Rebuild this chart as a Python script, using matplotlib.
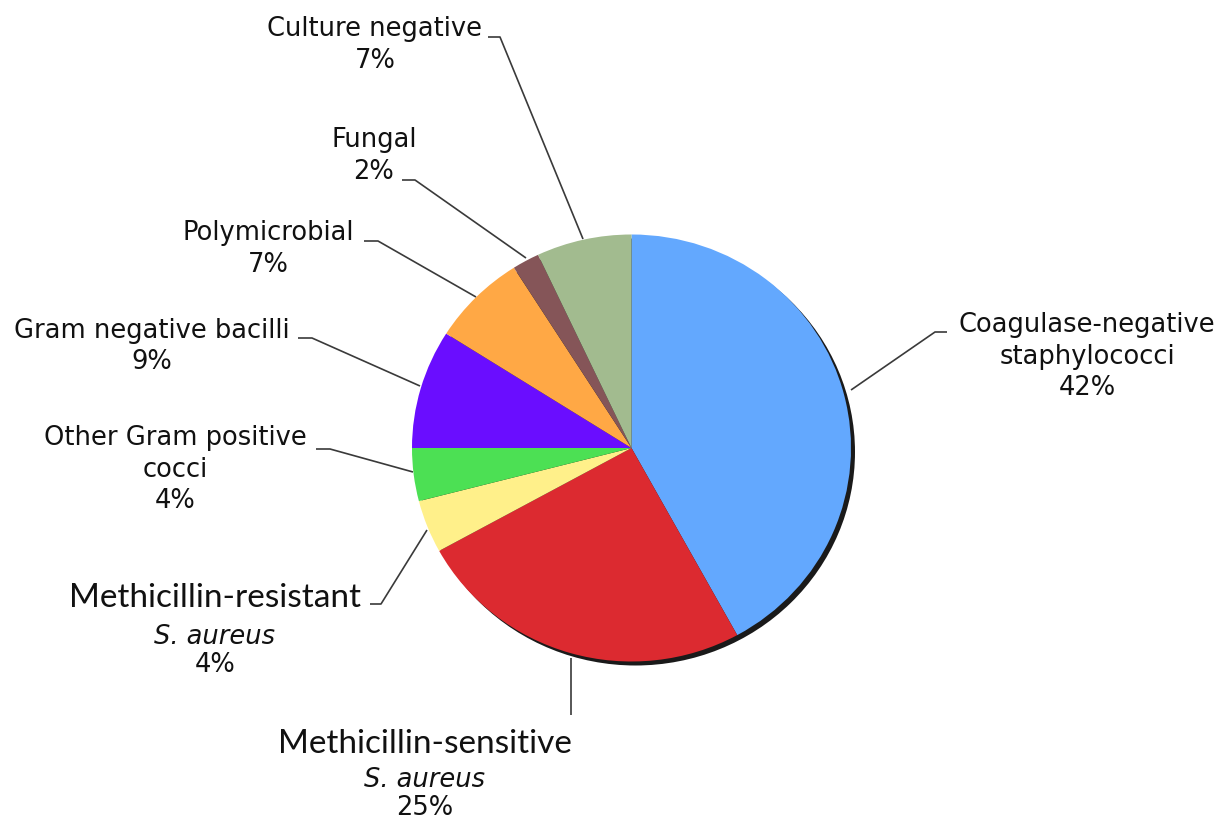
import matplotlib
matplotlib.use("Agg")
import matplotlib.pyplot as plt
from matplotlib.patches import Ellipse

categories = ["Coagulase-negative staphylococci", "Methicillin-sensitive S. aureus",
              "Methicillin-resistant S. aureus", "Other Gram positive cocci",
              "Gram negative bacilli", "Polymicrobial", "Fungal", "Culture negative"]
values = [42, 25, 4, 4, 9, 7, 2, 7]
colors = ["#63A8FE", "#DC2A30", "#FFF08A", "#4CE054", "#6A0DFF", "#FFA845", "#855558", "#A2BB8F"]

W, H = 1223, 821
CX, CY = 631.5, 448.0
RX, RY = 219.5, 213.5

fig = plt.figure(figsize=(W / 100, H / 100), dpi=100)
ax = fig.add_axes([0, 0, 1, 1])


def px(x, y):
    return ((x - CX) / RX, (CY - y) / RY)


# shadow
sx, sy = px(CX + 4, CY + 4)
ax.add_patch(Ellipse((sx, sy), 2, 2, facecolor="#1a1a1a", edgecolor="none", zorder=0))

ax.pie(values, colors=colors, startangle=90, counterclock=False, radius=1,
       wedgeprops=dict(linewidth=0, zorder=1))
ax.set_aspect("auto")
ax.set_xlim((0 - CX) / RX, (W - CX) / RX)
ax.set_ylim((CY - H) / RY, (CY - 0) / RY)
ax.axis("off")

FS = 18.5
LC = "#3a3a3a"


def lines(pts):
    xs, ys = zip(*[px(x, y) for x, y in pts])
    ax.plot(xs, ys, color=LC, lw=1.2, zorder=3, solid_capstyle="butt")


def txt(x, y, s, **kw):
    d = dict(fontsize=FS, ha="center", va="center", color="#111111", family="DejaVu Sans")
    d.update(kw)
    ax.text(*px(x, y), s, **d)


# Culture negative
txt(375, 29, "Culture negative")
txt(375, 61, "7%")
lines([(488, 37), (500, 37), (583, 239)])

# Fungal
txt(374, 140, "Fungal")
txt(374, 172, "2%")
lines([(402, 180), (415, 180), (526, 258)])

# Polymicrobial
txt(268, 233, "Polymicrobial")
txt(268, 265, "7%")
lines([(364, 241), (378, 241), (476, 297)])

# Gram negative bacilli
txt(152, 331, "Gram negative bacilli")
txt(152, 362, "9%")
lines([(298, 338), (312, 338), (420, 386)])

# Other Gram positive cocci
txt(175, 438, "Other Gram positive")
txt(175, 470, "cocci")
txt(175, 501, "4%")
lines([(316, 449), (330, 449), (413, 472)])

# Methicillin-resistant S. aureus
txt(215, 598, "Methicillin-resistant", family="Lato", fontsize=24)
txt(215, 637, "S. aureus", style="italic")
txt(215, 665, "4%")
lines([(370, 604), (381, 604), (427, 530)])

# Methicillin-sensitive S. aureus
txt(425, 744, "Methicillin-sensitive", family="Lato", fontsize=24)
txt(425, 780, "S. aureus", style="italic")
txt(425, 808, "25%")
lines([(571, 658), (571, 715)])

# Coagulase-negative staphylococci
txt(1087, 325, "Coagulase-negative")
txt(1087, 357, "staphylococci")
txt(1087, 388, "42%")
lines([(947, 332), (935, 332), (851, 390)])

fig.savefig("out.png", dpi=100, facecolor="white")
